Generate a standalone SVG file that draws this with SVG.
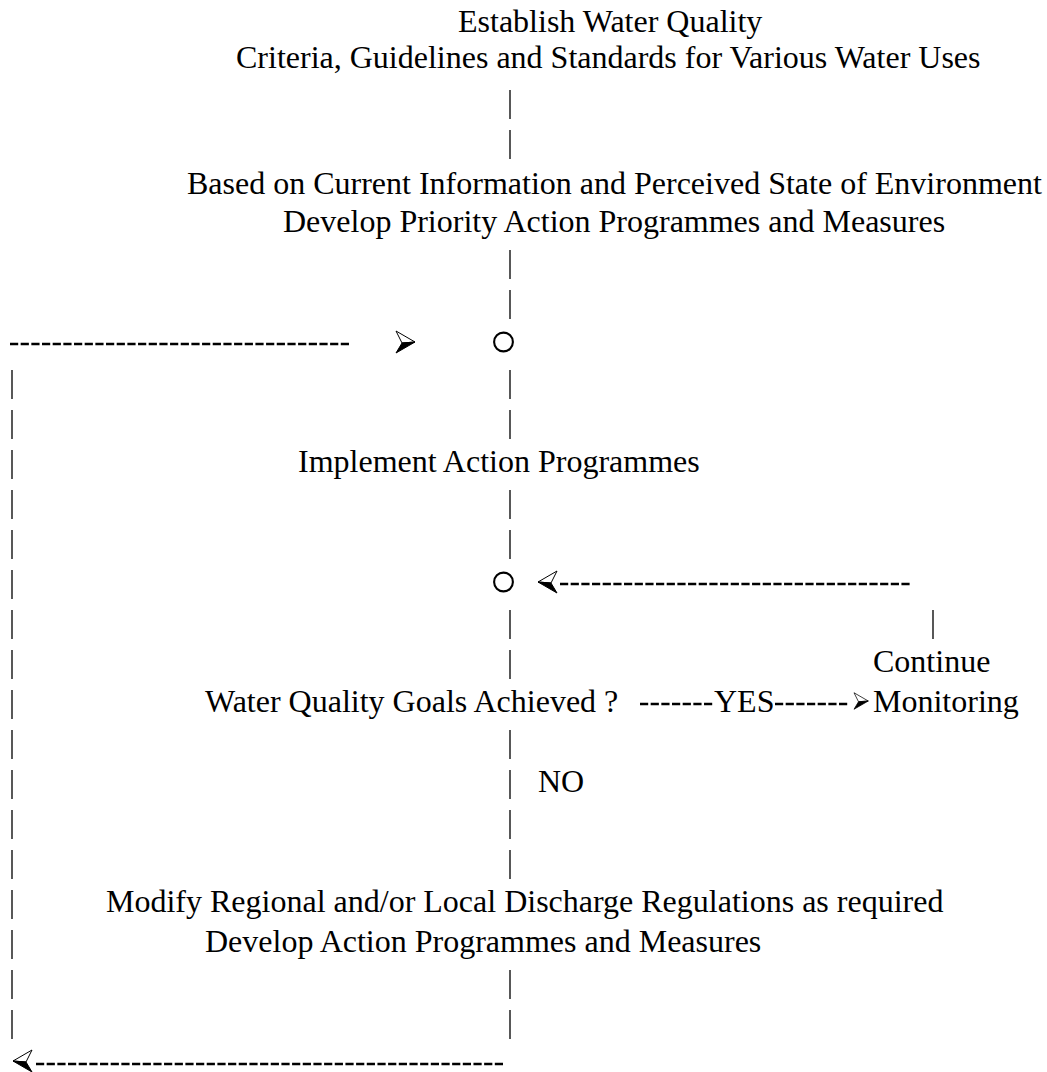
<svg xmlns="http://www.w3.org/2000/svg" xmlns:xlink="http://www.w3.org/1999/xlink" width="1047" height="1072" viewBox="0 0 1047 1072">
<style>
.t{font-family:"Liberation Serif","Times New Roman",serif;font-size:32px;fill:#000}
.bar{stroke:#111;stroke-width:1.4}
.dash{stroke:#000;stroke-width:2.5;stroke-dasharray:8.2 2.47}
.circ{fill:none;stroke:#000;stroke-width:2.1}
</style>
<defs>
<g id="ah">
<path d="M0,-11 L19,0 L6,1 Z" fill="#fff" stroke="#000" stroke-width="1"/>
<path d="M6,1 L19,0 L0,11 Z" fill="#000" stroke="#000" stroke-width="1"/>
</g>
</defs>
<rect width="1047" height="1072" fill="#fff"/>
<g id="n-establish">
<text class="t" x="458" y="32">Establish Water Quality</text>
<text class="t" x="236" y="68">Criteria, Guidelines and Standards for Various Water Uses</text>
</g>
<g id="n-develop-priority">
<text class="t" x="187" y="194">Based on Current Information and Perceived State of Environment</text>
<text class="t" x="283" y="232">Develop Priority Action Programmes and Measures</text>
</g>
<g id="n-join1"><circle class="circ" cx="503.5" cy="342" r="9.4"/></g>
<g id="n-implement"><text class="t" x="298" y="472">Implement Action Programmes</text></g>
<g id="n-join2"><circle class="circ" cx="503.5" cy="582" r="9.4"/></g>
<g id="n-goals"><text class="t" x="205" y="712">Water Quality Goals Achieved ?</text></g>
<g id="n-continue">
<text class="t" x="873" y="672">Continue</text>
<text class="t" x="873" y="712">Monitoring</text>
</g>
<g id="n-modify">
<text class="t" x="106" y="912">Modify Regional and/or Local Discharge Regulations as required</text>
<text class="t" x="205" y="952">Develop Action Programmes and Measures</text>
</g>
<g id="connectors">
<!-- top spine -->
<line class="bar" x1="510" y1="90" x2="510" y2="119"/>
<line class="bar" x1="510" y1="130" x2="510" y2="159"/>
<line class="bar" x1="510" y1="250" x2="510" y2="279"/>
<line class="bar" x1="510" y1="290" x2="510" y2="319"/>
<!-- feedback into first join -->
<line class="dash" x1="10" y1="344" x2="349" y2="344"/>
<use xlink:href="#ah" transform="translate(396,342)"/>
<!-- middle spine -->
<line class="bar" x1="510" y1="370" x2="510" y2="399"/>
<line class="bar" x1="510" y1="410" x2="510" y2="439"/>
<line class="bar" x1="510" y1="490" x2="510" y2="519"/>
<line class="bar" x1="510" y1="530" x2="510" y2="559"/>
<line class="bar" x1="510" y1="610" x2="510" y2="639"/>
<line class="bar" x1="510" y1="650" x2="510" y2="679"/>
<line class="bar" x1="510" y1="730" x2="510" y2="759"/>
<line class="bar" x1="510" y1="770" x2="510" y2="799"/>
<line class="bar" x1="510" y1="810" x2="510" y2="839"/>
<line class="bar" x1="510" y1="850" x2="510" y2="879"/>
<line class="bar" x1="510" y1="970" x2="510" y2="999"/>
<line class="bar" x1="510" y1="1010" x2="510" y2="1039"/>
<text class="t" x="538" y="792">NO</text>
<!-- YES branch -->
<line class="dash" x1="640" y1="704" x2="712.2" y2="704"/>
<text class="t" x="714" y="712">YES</text>
<line class="dash" x1="775" y1="704" x2="847.2" y2="704"/>
<use xlink:href="#ah" transform="translate(854,701) scale(0.75)"/>
<!-- monitoring loop back -->
<line class="bar" x1="933" y1="610" x2="933" y2="639"/>
<line class="dash" x1="560" y1="584" x2="909.6" y2="584"/>
<use xlink:href="#ah" transform="translate(557,582) scale(-1,1)"/>
<!-- left feedback spine -->
<line class="bar" x1="12" y1="370" x2="12" y2="399"/>
<line class="bar" x1="12" y1="410" x2="12" y2="439"/>
<line class="bar" x1="12" y1="450" x2="12" y2="479"/>
<line class="bar" x1="12" y1="490" x2="12" y2="519"/>
<line class="bar" x1="12" y1="530" x2="12" y2="559"/>
<line class="bar" x1="12" y1="570" x2="12" y2="599"/>
<line class="bar" x1="12" y1="610" x2="12" y2="639"/>
<line class="bar" x1="12" y1="650" x2="12" y2="679"/>
<line class="bar" x1="12" y1="690" x2="12" y2="719"/>
<line class="bar" x1="12" y1="730" x2="12" y2="759"/>
<line class="bar" x1="12" y1="770" x2="12" y2="799"/>
<line class="bar" x1="12" y1="810" x2="12" y2="839"/>
<line class="bar" x1="12" y1="850" x2="12" y2="879"/>
<line class="bar" x1="12" y1="890" x2="12" y2="919"/>
<line class="bar" x1="12" y1="930" x2="12" y2="959"/>
<line class="bar" x1="12" y1="970" x2="12" y2="999"/>
<line class="bar" x1="12" y1="1010" x2="12" y2="1039"/>
<!-- bottom return -->
<use xlink:href="#ah" transform="translate(32,1061) scale(-1,1)"/>
<line class="dash" x1="36" y1="1064" x2="503" y2="1064"/>
</g>
</svg>
